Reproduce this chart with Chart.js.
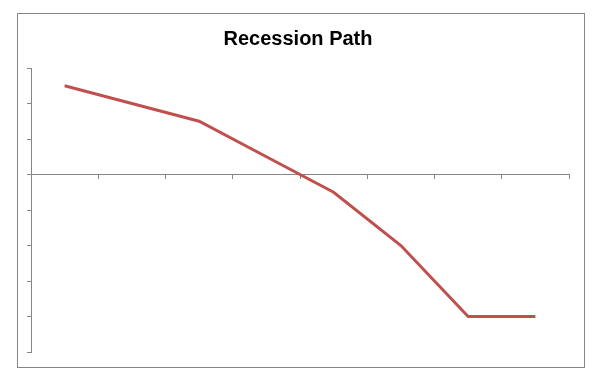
<!DOCTYPE html>
<html>
<head>
<meta charset="utf-8">
<script src="https://cdn.jsdelivr.net/npm/chart.js@4/dist/chart.umd.min.js"></script>
<style>
html,body{margin:0;padding:0;background:#fff;}
canvas{display:block;}
</style>
</head>
<body>
<canvas id="c" width="592" height="376"></canvas>
<script>
const categories = ['1', '2', '3', '4', '5', '6', '7', '8'];
const recessionPath = [2.5, 2.0, 1.5, 0.5, -0.5, -2.0, -4.0, -4.0];
const yMin = -5;
const yMax = 3;
const yStep = 1;

const frame = {
  id: 'frame',
  beforeDraw(chart) {
    const ctx = chart.ctx;
    ctx.save();
    ctx.fillStyle = '#ffffff';
    ctx.fillRect(0, 0, chart.width, chart.height);
    ctx.strokeStyle = '#868686';
    ctx.lineWidth = 1;
    ctx.strokeRect(17.5, 13.5, 567, 354);
    ctx.restore();
  }
};

new Chart(document.getElementById('c'), {
  type: 'line',
  data: {
    labels: categories,
    datasets: [{
      label: 'Recession Path',
      data: recessionPath,
      borderColor: '#C0504D',
      borderWidth: 3,
      pointRadius: 0,
      tension: 0,
      fill: false
    }]
  },
  options: {
    responsive: false,
    devicePixelRatio: 1,
    animation: false,
    layout: { padding: { top: 15, left: 27, right: 23, bottom: 24 } },
    plugins: {
      legend: { display: false },
      tooltip: { enabled: false },
      title: {
        display: true,
        text: 'Recession Path',
        color: '#000000',
        font: { family: 'Liberation Sans', size: 20, weight: 'bold' },
        padding: { top: 12, bottom: 17 }
      }
    },
    scales: {
      x: {
        type: 'category',
        position: { y: 0 },
        offset: true,
        ticks: { display: false },
        grid: { offset: true, drawOnChartArea: false, tickLength: 4, color: '#868686', lineWidth: 1 },
        border: { color: '#868686', width: 1 }
      },
      y: {
        min: yMin,
        max: yMax,
        ticks: { display: false, stepSize: yStep },
        grid: { drawOnChartArea: false, tickLength: 4, color: '#868686', lineWidth: 1 },
        border: { color: '#868686', width: 1 }
      }
    }
  },
  plugins: [frame]
});
</script>
</body>
</html>
